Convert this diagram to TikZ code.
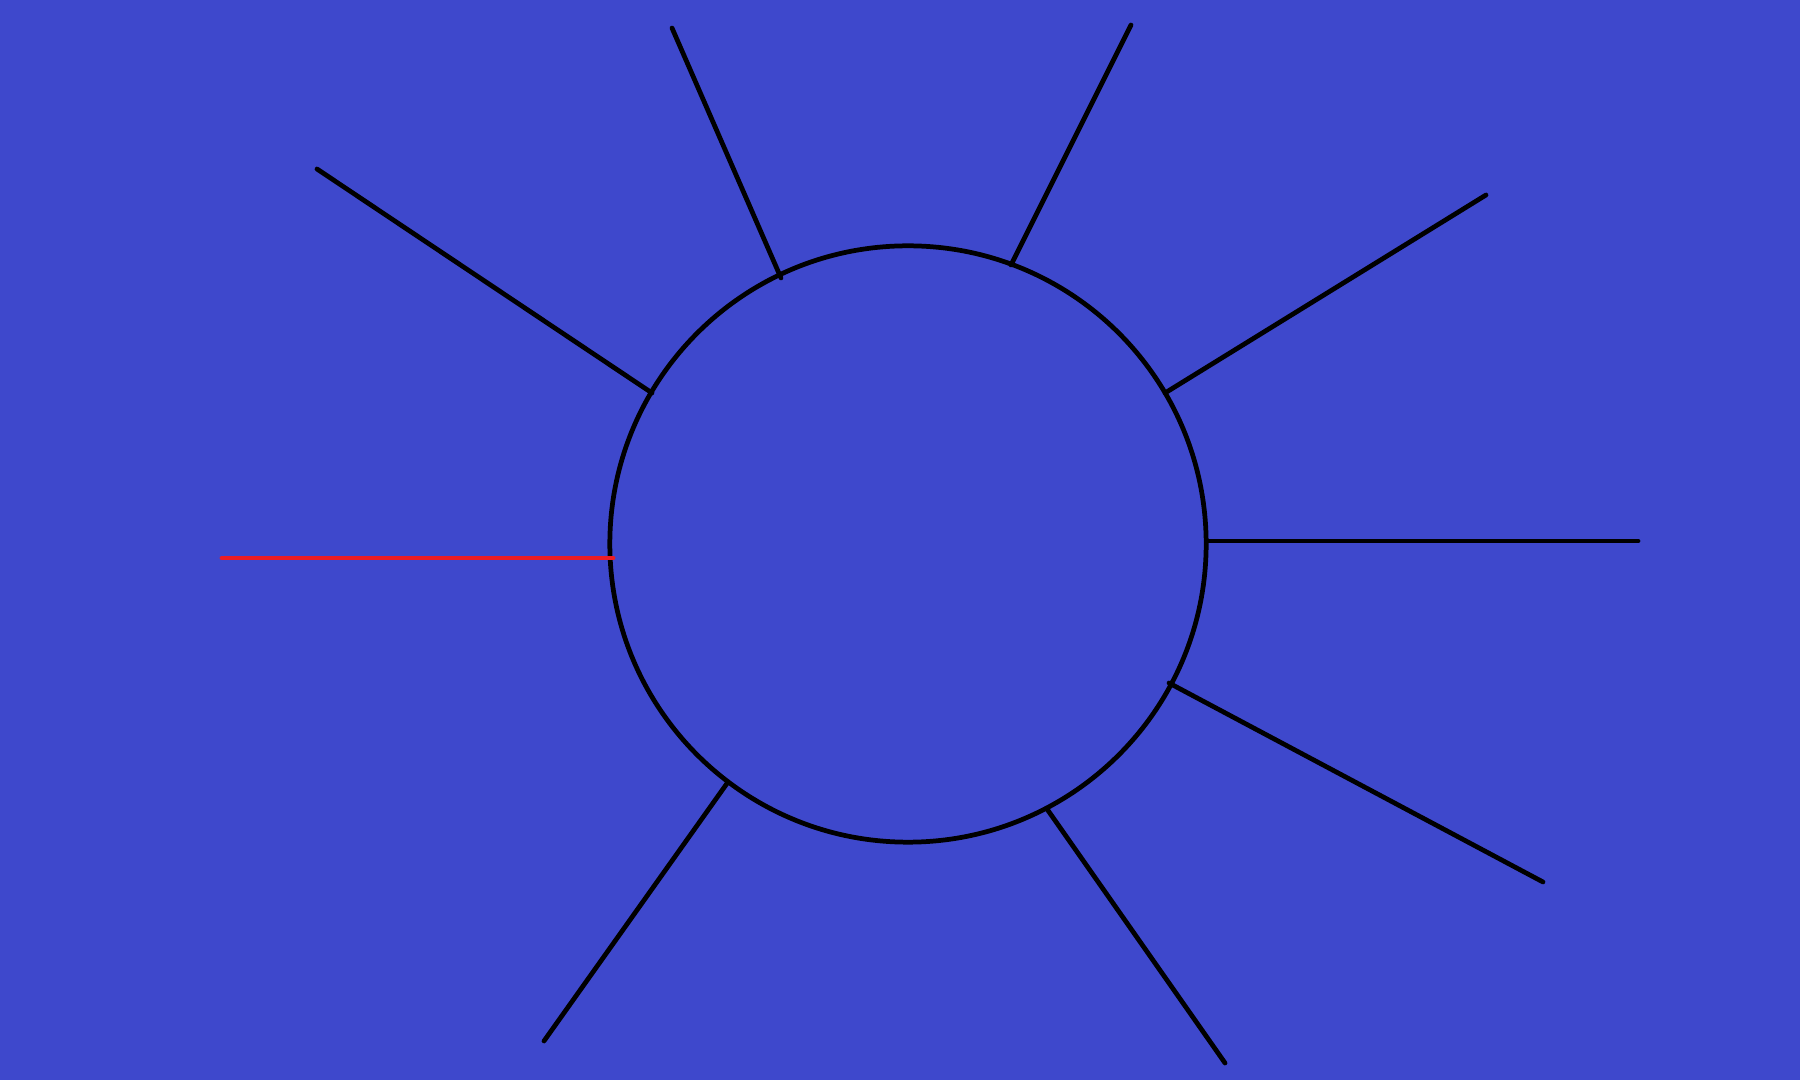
\documentclass[tikz,border=0pt]{standalone}
\definecolor{bgblue}{RGB}{62,72,204}
\definecolor{rayred}{RGB}{237,28,36}
\tikzset{
  ray/.style={draw=black, line width=1.35pt, line cap=round},
  redray/.style={draw=rayred, line width=1.35pt, line cap=round},
  sun/.style={circle, draw=black, line width=1.35pt, minimum size=5.96cm, inner sep=0pt}
}
\begin{document}
\begin{tikzpicture}[x=0.01cm,y=-0.01cm]
\fill[bgblue] (0,0) rectangle (1800,1080);
\useasboundingbox (0,0) rectangle (1800,1080);
\node[sun] (c) at (908,544) {};
\coordinate (a1) at (672,28);   \coordinate (b1) at (781,278);
\coordinate (a2) at (1131,25);  \coordinate (b2) at (1011,265);
\coordinate (a3) at (317,169);  \coordinate (b3) at (652,393);
\coordinate (a4) at (1486,195); \coordinate (b4) at (1165,393);
\coordinate (a5) at (222,558);  \coordinate (b5) at (613,558);
\coordinate (a6) at (1638,541); \coordinate (b6) at (1208,541);
\coordinate (a7) at (1543,882); \coordinate (b7) at (1169,683);
\coordinate (a8) at (544,1041); \coordinate (b8) at (728,782);
\coordinate (a9) at (1225,1063);\coordinate (b9) at (1047,809);
\draw[ray] (a1) -- (b1);
\draw[ray] (a2) -- (b2);
\draw[ray] (a3) -- (b3);
\draw[ray] (a4) -- (b4);
\draw[redray] (a5) -- (b5);
\draw[ray] (a6) -- (b6);
\draw[ray] (a7) -- (b7);
\draw[ray] (a8) -- (b8);
\draw[ray] (a9) -- (b9);
\end{tikzpicture}
\end{document}
